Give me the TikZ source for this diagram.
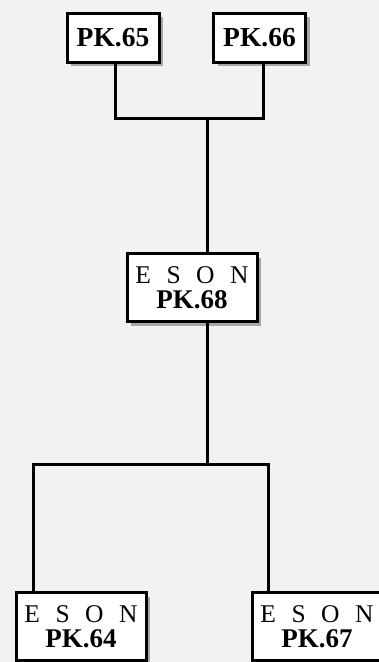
\documentclass[tikz,border=0pt]{standalone}
\usepackage{fontspec}
\setmainfont{Liberation Serif}
\usetikzlibrary{shadows}
\definecolor{bg}{HTML}{F2F2F2}
\definecolor{shd}{HTML}{A6A6A6}
\tikzset{
  box/.style={draw=black, line width=3pt, fill=white, inner sep=0pt,
    drop shadow={shadow xshift=4pt, shadow yshift=-4pt, fill=shd, opacity=1},
    align=center},
  single/.style={box, minimum width=92pt, minimum height=49pt,
    font=\fontsize{27.5}{27}\selectfont\bfseries},
  double/.style={box, minimum width=130pt, minimum height=68pt,
    font=\fontsize{27}{25}\selectfont},
  link/.style={line width=3pt, line cap=rect}
}
\newcommand{\esonline}{{\fontsize{25.5}{25}\selectfont E\hspace{15.5pt}S\hspace{15.5pt}O\hspace{15.5pt}N}}
\begin{document}
\begin{tikzpicture}[x=1pt,y=-1pt]
\fill[bg] (0,0) rectangle (379,662);
\useasboundingbox (0,0) rectangle (379,662);
\node[single] (p65) at (113,37.5) {PK.65};
\node[single] (p66) at (259.5,37.5) {PK.66};
\node[double] (p68) at (192,287.5) {\esonline\\\textbf{PK.68}};
\node[double] (p64) at (81,626.5) {\esonline\\\textbf{PK.64}};
\node[double] (p67) at (317,626.5) {\esonline\\\textbf{PK.67}};
\coordinate (j1) at (207,118);
\coordinate (j2) at (207,464);
\coordinate (x65) at (115,0);
\coordinate (x66) at (263,0);
\coordinate (x64) at (33,0);
\coordinate (x67) at (268,0);
\draw[link] (p65.south -| x65) |- (j1) -| (p66.south -| x66);
\draw[link] (j1) -- (p68.north -| j1);
\draw[link] (p68.south -| j2) -- (j2);
\draw[link] (p64.north -| x64) |- (j2) -| (p67.north -| x67);
\end{tikzpicture}
\end{document}
